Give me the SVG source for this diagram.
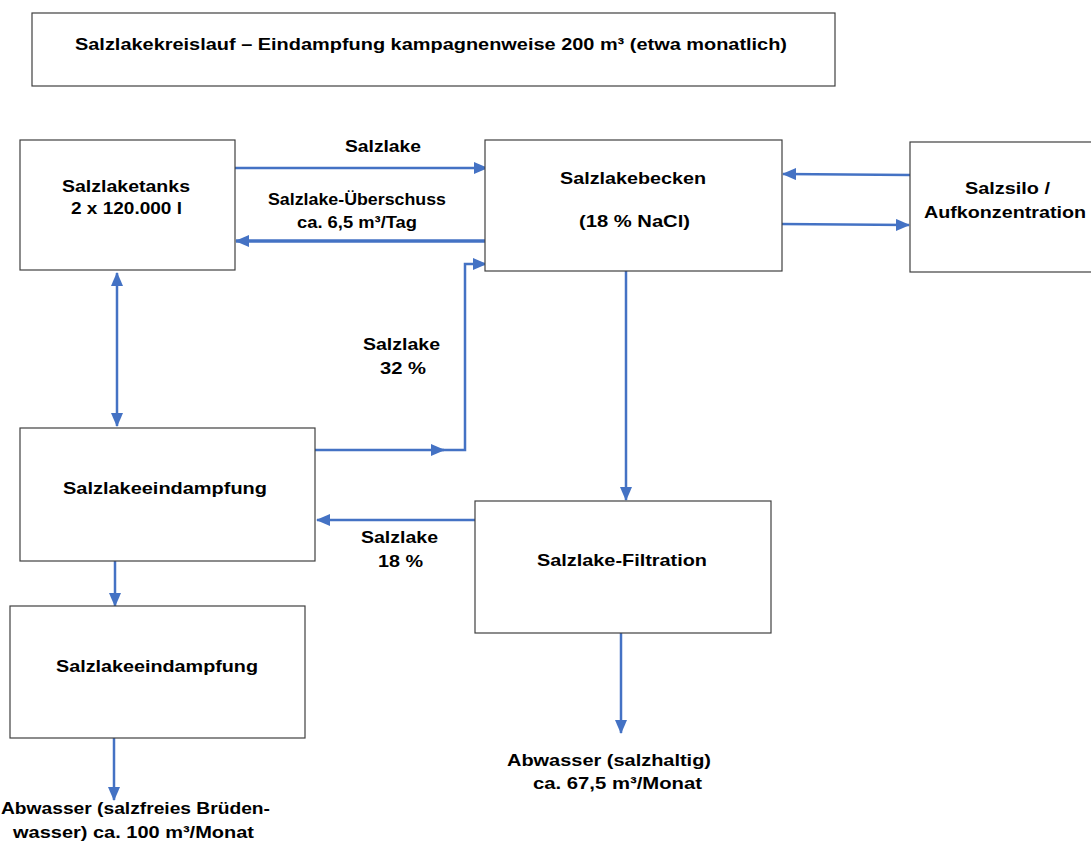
<svg xmlns="http://www.w3.org/2000/svg" width="1091" height="843" viewBox="0 0 1091 843">
<style>
.box{fill:#fff;stroke:#404040;stroke-width:1.2}
.t{font-family:"Liberation Sans",Arial,sans-serif;font-weight:bold;font-size:17px;fill:#000}
.c{stroke:#4472C4;stroke-width:2.5;fill:none}
.thick{stroke-width:3.5}
</style>
<defs>
<marker id="ah" markerUnits="userSpaceOnUse" markerWidth="14" markerHeight="12" viewBox="0 0 14 12" refX="13" refY="6" orient="auto-start-reverse">
<path d="M0,0 L14,6 L0,12 Z" fill="#4472C4"/>
</marker>
</defs>
<rect width="1091" height="843" fill="#fff"/>
<g id="title">
<rect class="box" x="32" y="13" width="803" height="73"/>
<text class="t" x="75" y="50" textLength="712" lengthAdjust="spacingAndGlyphs">Salzlakekreislauf – Eindampfung kampagnenweise 200 m³ (etwa monatlich)</text>
</g>
<g id="connectors">
<line class="c" x1="235" y1="168" x2="487" y2="168" marker-end="url(#ah)"/>
<line class="c thick" x1="486" y1="241" x2="236" y2="241" marker-end="url(#ah)"/>
<line class="c" x1="910" y1="175" x2="783" y2="174" marker-end="url(#ah)"/>
<line class="c" x1="780" y1="224" x2="909" y2="225" marker-end="url(#ah)"/>
<line class="c" x1="117" y1="273" x2="117" y2="426" marker-start="url(#ah)" marker-end="url(#ah)"/>
<line class="c" x1="315" y1="450" x2="444" y2="450" marker-end="url(#ah)"/>
<polyline class="c" points="440,450 465,450 465,264 486,264" marker-end="url(#ah)"/>
<line class="c" x1="626" y1="271" x2="626" y2="500" marker-end="url(#ah)"/>
<line class="c" x1="475" y1="520" x2="317" y2="520" marker-end="url(#ah)"/>
<line class="c" x1="115" y1="555" x2="115" y2="606" marker-end="url(#ah)"/>
<line class="c" x1="114" y1="733" x2="114" y2="800" marker-end="url(#ah)"/>
<line class="c" x1="621" y1="633" x2="621" y2="733" marker-end="url(#ah)"/>
</g>
<g id="labels">
<text class="t" x="345" y="152" textLength="76" lengthAdjust="spacingAndGlyphs">Salzlake</text>
<text class="t" x="268" y="205" textLength="178" lengthAdjust="spacingAndGlyphs">Salzlake-Überschuss</text>
<text class="t" x="297" y="228" textLength="120" lengthAdjust="spacingAndGlyphs">ca. 6,5 m³/Tag</text>
<text class="t" x="363" y="350" textLength="77" lengthAdjust="spacingAndGlyphs">Salzlake</text>
<text class="t" x="380" y="374" textLength="46" lengthAdjust="spacingAndGlyphs">32 %</text>
<text class="t" x="361" y="543" textLength="77" lengthAdjust="spacingAndGlyphs">Salzlake</text>
<text class="t" x="378" y="567" textLength="45" lengthAdjust="spacingAndGlyphs">18 %</text>
<text class="t" x="507" y="766" textLength="204" lengthAdjust="spacingAndGlyphs">Abwasser (salzhaltig)</text>
<text class="t" x="533" y="789" textLength="169" lengthAdjust="spacingAndGlyphs">ca. 67,5 m³/Monat</text>
<text class="t" x="1" y="814" textLength="269" lengthAdjust="spacingAndGlyphs">Abwasser (salzfreies Brüden-</text>
<text class="t" x="13" y="838" textLength="241" lengthAdjust="spacingAndGlyphs">wasser) ca. 100 m³/Monat</text>
</g>
<g id="salzlaketanks">
<rect class="box" x="20" y="140" width="215" height="130"/>
<text class="t" x="62" y="192" textLength="128" lengthAdjust="spacingAndGlyphs">Salzlaketanks</text>
<text class="t" x="71" y="214" textLength="111" lengthAdjust="spacingAndGlyphs">2 x 120.000 l</text>
</g>
<g id="salzlakebecken">
<rect class="box" x="485" y="140" width="297" height="131"/>
<text class="t" x="560" y="184" textLength="146" lengthAdjust="spacingAndGlyphs">Salzlakebecken</text>
<text class="t" x="579" y="227" textLength="111" lengthAdjust="spacingAndGlyphs">(18 % NaCl)</text>
</g>
<g id="salzsilo">
<rect class="box" x="910" y="142" width="190" height="130"/>
<text class="t" x="965" y="194" textLength="85" lengthAdjust="spacingAndGlyphs">Salzsilo /</text>
<text class="t" x="924" y="218" textLength="162" lengthAdjust="spacingAndGlyphs">Aufkonzentration</text>
</g>
<g id="eindampfung1">
<rect class="box" x="20" y="428" width="295" height="133"/>
<text class="t" x="63" y="494" textLength="204" lengthAdjust="spacingAndGlyphs">Salzlakeeindampfung</text>
</g>
<g id="filtration">
<rect class="box" x="475" y="501" width="296" height="132"/>
<text class="t" x="537" y="566" textLength="170" lengthAdjust="spacingAndGlyphs">Salzlake-Filtration</text>
</g>
<g id="eindampfung2">
<rect class="box" x="10" y="606" width="295" height="132"/>
<text class="t" x="56" y="672" textLength="202" lengthAdjust="spacingAndGlyphs">Salzlakeeindampfung</text>
</g>
</svg>
